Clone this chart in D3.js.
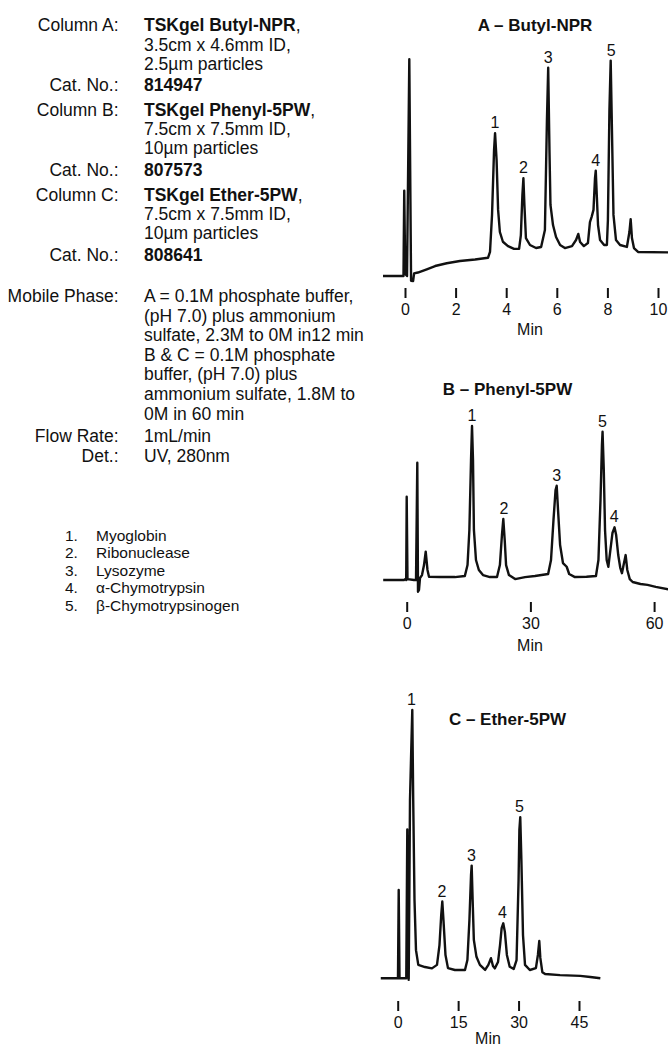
<!DOCTYPE html>
<html lang="en">
<head>
<meta charset="UTF-8">
<title>TSKgel HIC columns</title>
<style>
  body { margin: 0; background: #fff; }
  svg { display: block; }
  text { font-family: "Liberation Sans", Arial, Helvetica, sans-serif; fill: #111; }
  .info { font-size: 17.5px; }
  .legend { font-size: 15.5px; }
  .title { font-size: 17px; font-weight: bold; }
  .peak { font-size: 16px; text-anchor: middle; }
  .axis text { font-size: 16px; fill: #111; font-family: "Liberation Sans", Arial, sans-serif; }
  .axis line { stroke: #111; stroke-width: 2px; }
  .trace { fill: none; stroke: #111; stroke-width: 2.4px; stroke-linejoin: round; }
</style>
</head>
<body>
<svg width="668" height="1048"></svg>
<script src="https://d3js.org/d3.v7.min.js"></script>
<script>
// time (min), relative signal
const traceA = [
  [-0.87, 0], [-0.12, 0], [-0.06, 0], [-0.03, 39.4], [0.01, 0.9], [0.08, 0],
  [0.17, 100], [0.24, -2.2], [0.32, -2.3], [0.36, 1.2], [0.51, 1.6], [0.86, 3.1],
  [1.19, 4.6], [1.65, 5.9], [2.17, 6.9], [2.77, 7.6], [3.28, 8.4],
  [3.36, 11.1], [3.44, 28.2], [3.52, 58.1], [3.56, 65.9], [3.62, 53.5], [3.68, 30.5],
  [3.75, 20.3], [3.87, 15.8], [4.07, 13.8], [4.31, 12.5], [4.51, 12.5],
  [4.58, 18.9], [4.64, 37.4], [4.68, 45.1], [4.72, 32.8], [4.78, 17.5], [4.94, 14.3],
  [5.18, 12.9], [5.38, 13.4],
  [5.53, 21.2], [5.61, 72], [5.66, 96.1], [5.71, 58.1], [5.75, 32.8], [5.85, 23.5],
  [5.97, 18], [6.13, 14.3], [6.32, 12.9], [6.6, 13.8],
  [6.76, 16.6], [6.85, 19.4], [6.92, 15.7], [7.07, 13.8], [7.23, 15.2],
  [7.31, 24.9], [7.38, 27.4], [7.45, 30.5], [7.51, 45.2], [7.54, 48.6], [7.58, 37.4],
  [7.63, 23.5], [7.71, 16.6], [7.87, 14.3], [7.98, 14.3],
  [8.02, 25.8], [8.08, 76.6], [8.13, 99.4], [8.18, 67.3], [8.24, 28.2], [8.34, 16.6],
  [8.5, 14.3], [8.77, 13.4],
  [8.87, 20.3], [8.92, 26.2], [8.97, 17.5], [9.05, 12.9], [9.21, 11.1], [10.4, 10.9]
];
const traceB = [
  [-5.7, 0], [-0.65, 0], [-0.3, 0.6], [-0.12, 0], [0, 54.1], [0.19, 0.6],
  [1.77, 0], [2.26, 0], [2.57, 76.2], [2.74, -7.6], [2.98, -6.5], [3.23, 1.3], [3.71, 3.2],
  [4.2, 9.7], [4.61, 18.4], [5.04, 6.5], [5.41, 2.1],
  [8.08, 1.9], [11.7, 1.9], [14.1, 2.6],
  [14.75, 9.7], [15.2, 32.5], [15.6, 77.9], [15.84, 100], [16.08, 77.9], [16.3, 32.5],
  [16.8, 13], [17.5, 6.5], [18.5, 3.2], [20.2, 1.9], [21.9, 1.9],
  [22.6, 9.7], [23.1, 29.2], [23.43, 39.6], [23.77, 26], [24.1, 9.7], [24.8, 3.2],
  [26.3, 0.6], [28.7, 1.9], [31.1, 2.6], [34.3, 3.9],
  [35.0, 13], [35.6, 39], [36.1, 58.4], [36.38, 61.2], [36.7, 45.5], [37.2, 22.7],
  [37.9, 11], [38.8, 8.6], [39.4, 3.9], [40.8, 1.9], [43.6, 2.1], [45.9, 2.6],
  [46.5, 13], [47.0, 52], [47.35, 87.7], [47.5, 96.3], [47.8, 71.4], [48.1, 32.5],
  [48.5, 13], [48.9, 8.6], [49.4, 19.5], [49.9, 30.5], [50.4, 34.2], [50.8, 29.2],
  [51.3, 16.2], [51.8, 7.8], [52.2, 4.4], [52.6, 9.7], [53.1, 16.2], [53.5, 6.5],
  [54.1, 0.6], [54.8, -1.3], [56.7, -2.6], [58.4, -3.2], [60.4, -4.5], [63.4, -6]
];
const traceC = [
  [-4.2, 0], [-0.17, 0], [0.07, 0], [0.25, 32.9], [0.45, 0],
  [1.94, 0], [2.13, 0], [2.38, 55.5], [2.56, 6.8], [2.73, -0.6], [2.88, 29.2],
  [3.05, 66.4], [3.3, 81.4], [3.62, 100], [3.85, 66.4], [4.17, 29.2], [4.54, 10.5],
  [5.11, 5], [6.77, 4.2], [8.5, 3.7], [9.75, 5],
  [10.37, 12.4], [10.8, 23.6], [11.07, 28.6], [11.36, 21.7], [11.86, 8.7], [12.48, 3.8],
  [14.2, 3.1], [16.7, 3.1],
  [17.3, 6.8], [17.8, 21.7], [18.2, 38.5], [18.36, 42], [18.6, 29.2], [18.9, 14.3],
  [19.55, 8], [20.4, 5], [21.7, 3.1],
  [22.5, 5], [23.15, 7.5], [23.65, 4.6], [24.1, 3.7], [24.9, 6.1],
  [25.4, 12.4], [25.8, 18.7], [26.2, 20.5], [26.6, 17.3], [27.1, 8.7], [27.8, 4.3],
  [28.8, 3.5], [29.5, 6.8],
  [30.0, 36.6], [30.2, 55.3], [30.42, 60], [30.7, 44.1], [31.1, 16.1], [31.6, 5],
  [32.8, 3.1], [34.3, 3.8],
  [34.8, 8.7], [35.14, 13.9], [35.4, 7.6], [35.9, 2.3], [36.6, 1.6], [40.3, 1.2],
  [45.3, 0.9], [47.8, 0.5], [50.3, 0]
];

// peak number, time, signal at top
const peaksA = [["1", 3.56, 65.9], ["2", 4.68, 45.1], ["3", 5.66, 96.1], ["4", 7.54, 48.6], ["5", 8.15, 99.4]];
const peaksB = [["1", 15.84, 100], ["2", 23.6, 39.6], ["3", 36.38, 61.2], ["5", 47.5, 96.3], ["4", 50.3, 34.2]];
const peaksC = [["1", 3.4, 100], ["2", 11.0, 28.6], ["3", 18.3, 42], ["4", 26.0, 20.5], ["5", 30.2, 60]];

const ticksA = [0, 2, 4, 6, 8, 10];
const ticksB = [0, 30, 60];
const ticksC = [0, 15, 30, 45];

const titles = ["A \u2013 Butyl-NPR", "B \u2013 Phenyl-5PW", "C \u2013 Ether-5PW"];

const infoLabels = ["Column A:", "", "", "Cat. No.:", "Column B:", "", "", "Cat. No.:",
  "Column C:", "", "", "Cat. No.:"];
const infoValues = [
  [["TSKgel Butyl-NPR", true], [",", false]],
  [["3.5cm x 4.6mm ID,", false]],
  [["2.5\u00b5m particles", false]],
  [["814947", true]],
  [["TSKgel Phenyl-5PW", true], [",", false]],
  [["7.5cm x 7.5mm ID,", false]],
  [["10\u00b5m particles", false]],
  [["807573", true]],
  [["TSKgel Ether-5PW", true], [",", false]],
  [["7.5cm x 7.5mm ID,", false]],
  [["10\u00b5m particles", false]],
  [["808641", true]]
];
const conditionLabels = ["Mobile Phase:", "", "", "", "", "", "", "Flow Rate:", "Det.:"];
const conditionValues = [
  "A = 0.1M phosphate buffer,",
  "(pH 7.0) plus ammonium",
  "sulfate, 2.3M to 0M in12 min",
  "B & C = 0.1M phosphate",
  "buffer, (pH 7.0) plus",
  "ammonium sulfate, 1.8M to",
  "0M in 60 min",
  "1mL/min",
  "UV, 280nm"
];
const proteins = ["Myoglobin", "Ribonuclease", "Lysozyme", "\u03b1-Chymotrypsin", "\u03b2-Chymotrypsinogen"];

const svg = d3.select("svg");

// ---- left text block ----
const infoY = [31, 50.5, 69.5, 91, 116, 135, 154, 176, 201, 220, 239, 261];
const info = svg.append("g").attr("class", "info");
infoLabels.forEach((lab, i) => {
  if (lab) info.append("text").attr("x", 118.5).attr("y", infoY[i]).attr("text-anchor", "end").text(lab);
  const t = info.append("text").attr("x", 144).attr("y", infoY[i]);
  infoValues[i].forEach(([s, bold]) => {
    t.append("tspan").attr("font-weight", bold ? "bold" : null).text(s);
  });
});
const condY = d3.range(conditionValues.length).map(i => 302 + i * 19.6 + (i >= 7 ? 3 : 0));
conditionValues.forEach((v, i) => {
  if (conditionLabels[i]) info.append("text").attr("x", 118.5).attr("y", condY[i]).attr("text-anchor", "end").text(conditionLabels[i]);
  info.append("text").attr("x", 144).attr("y", condY[i]).text(v);
});

const legend = svg.append("g").attr("class", "legend");
proteins.forEach((p, i) => {
  const y = 540.5 + i * 17.5;
  legend.append("text").attr("x", 65).attr("y", y).text((i + 1) + ".");
  legend.append("text").attr("x", 96).attr("y", y).text(p);
});

// ---- chromatograms ----
const panels = [
  { trace: traceA, peaks: peaksA, ticks: ticksA, dom: [0, 10], xr: [405, 658], yr: [276, 59.3],
    axisY: 288, minX: 530, minY: 335, title: titles[0], tx: 535, ty: 31 },
  { trace: traceB, peaks: peaksB, ticks: ticksB, dom: [0, 60], xr: [406.7, 654.1], yr: [580, 426],
    axisY: 602, minX: 530, minY: 651, title: titles[1], tx: 507.5, ty: 394.5 },
  { trace: traceC, peaks: peaksC, ticks: ticksC, dom: [0, 45], xr: [397.7, 579], yr: [978.3, 710],
    axisY: 1001, minX: 488, minY: 1043.5, title: titles[2], tx: 507.5, ty: 724.5 }
];

panels.forEach(p => {
  const x = d3.scaleLinear().domain(p.dom).range(p.xr);
  const y = d3.scaleLinear().domain([0, 100]).range(p.yr);
  const g = svg.append("g");

  g.append("path")
    .datum(p.trace)
    .attr("class", "trace")
    .attr("d", d3.line().x(d => x(d[0])).y(d => y(d[1])));

  g.selectAll(".peak")
    .data(p.peaks)
    .enter().append("text")
    .attr("class", "peak")
    .attr("x", d => x(d[1]))
    .attr("y", d => y(d[2]) - 5)
    .text(d => d[0]);

  const axis = g.append("g")
    .attr("class", "axis")
    .attr("transform", `translate(0,${p.axisY})`)
    .call(d3.axisBottom(x).tickValues(p.ticks).tickSize(10).tickPadding(6).tickFormat(d3.format("d")));
  axis.select(".domain").remove();

  g.append("text").attr("class", "axis-title")
    .attr("x", p.minX).attr("y", p.minY)
    .attr("text-anchor", "middle").attr("font-size", 16)
    .text("Min");

  g.append("text").attr("class", "title")
    .attr("x", p.tx).attr("y", p.ty)
    .attr("text-anchor", "middle")
    .text(p.title);
});
</script>
</body>
</html>
